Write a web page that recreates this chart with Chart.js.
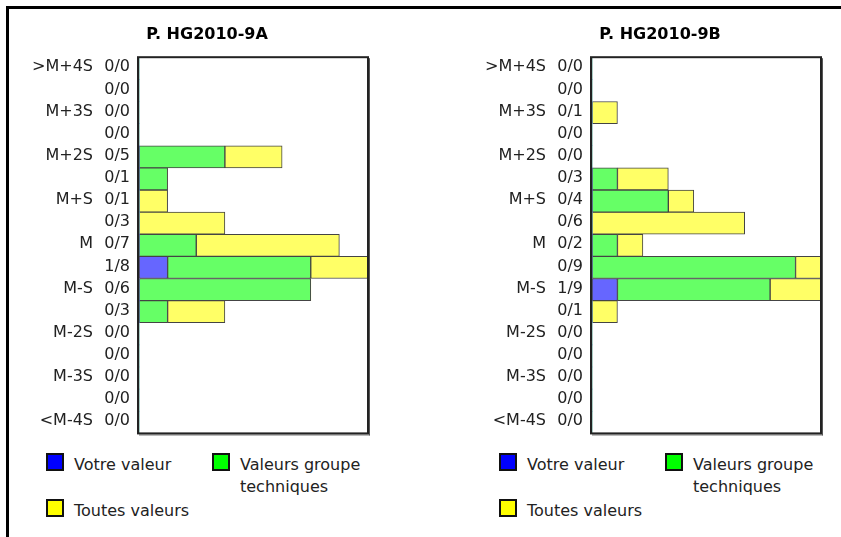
<!DOCTYPE html>
<html>
<head>
<meta charset="utf-8">
<script src="https://cdn.jsdelivr.net/npm/chart.js@4/dist/chart.umd.min.js"></script>
<style>
    body { margin: 0; background: #fff; width: 841px; height: 537px; overflow: hidden; position: relative; font-family: "DejaVu Sans", sans-serif; }
    .frame { position: absolute; left: 6px; top: 6px; right: 0; bottom: 0; border-left: 3px solid #000; border-top: 3px solid #000; }
    .panel { position: absolute; top: 0; width: 414px; height: 537px; }
    .panel canvas { position: absolute; left: 0; top: 0; }
    .legend { position: absolute; left: 46px; top: 453px; display: grid; grid-template-columns: 166px 170px; row-gap: 1px; }
    .item { display: flex; align-items: flex-start; font-size: 16px; color: #222; line-height: 22px; }
    .box { width: 14px; height: 14px; border: 2px solid #111; margin-right: 10px; flex: none; }
    .item span { margin-top: 1px; max-width: 150px; }
</style>
</head>
<body>
<div class="frame"></div>
<div class="panel" style="left:0px"><canvas id="chartA" width="414" height="452"></canvas><div class="legend" id="legendA"></div></div>
<div class="panel" style="left:453px"><canvas id="chartB" width="414" height="452"></canvas><div class="legend" id="legendB"></div></div>
<script>
// row labels (top to bottom)
const categories = [">M+4S", "", "M+3S", "", "M+2S", "", "M+S", "", "M", "", "M-S", "", "M-2S", "", "M-3S", "", "<M-4S"];
const seriesNames = ["Votre valeur", "Valeurs groupe techniques", "Toutes valeurs"];
const barColors = ["#6666ff", "#66ff66", "#ffff66"];
const legendColors = ["#0000ff", "#00ff00", "#ffff00"];

// P. HG2010-9A
const titleA = "P. HG2010-9A";
const countsA = ["0/0", "0/0", "0/0", "0/0", "0/5", "0/1", "0/1", "0/3", "0/7", "1/8", "0/6", "0/3", "0/0", "0/0", "0/0", "0/0", "0/0"];
const votreA  = [0, 0, 0, 0, 0, 0, 0, 0, 0, 1, 0, 0, 0, 0, 0, 0, 0];
const groupeA = [0, 0, 0, 0, 3, 1, 0, 0, 2, 5, 6, 1, 0, 0, 0, 0, 0];
const toutesA = [0, 0, 0, 0, 2, 0, 1, 3, 5, 2, 0, 2, 0, 0, 0, 0, 0];
const maxA = 8;

// P. HG2010-9B
const titleB = "P. HG2010-9B";
const countsB = ["0/0", "0/0", "0/1", "0/0", "0/0", "0/3", "0/4", "0/6", "0/2", "0/9", "1/9", "0/1", "0/0", "0/0", "0/0", "0/0", "0/0"];
const votreB  = [0, 0, 0, 0, 0, 0, 0, 0, 0, 0, 1, 0, 0, 0, 0, 0, 0];
const groupeB = [0, 0, 0, 0, 0, 1, 3, 0, 1, 8, 6, 0, 0, 0, 0, 0, 0];
const toutesB = [0, 0, 1, 0, 0, 2, 1, 6, 1, 1, 2, 1, 0, 0, 0, 0, 0];
const maxB = 9;

Chart.defaults.font.family = "'DejaVu Sans', sans-serif";
Chart.defaults.font.size = 16;
Chart.defaults.color = "#222";

// box around the plot area
const plotFrame = {
    id: "plotFrame",
    afterDraw(chart) {
        const { ctx, chartArea: a } = chart;
        ctx.save();
        ctx.strokeStyle = "#222";
        ctx.lineWidth = 2;
        ctx.strokeRect(a.left - 1, a.top, a.right - a.left + 1, a.bottom - a.top);
        ctx.fillStyle = "#555";
        ctx.fillRect(a.right + 1, a.top + 1, 1, a.bottom - a.top + 1);
        ctx.fillRect(a.left, a.bottom + 1, a.right - a.left + 2, 1);
        ctx.restore();
    }
};

function makeChart(canvasId, legendId, title, counts, series, xMax) {
    const datasets = series.map((values, i) => ({
        label: seriesNames[i],
        data: values,
        backgroundColor: barColors[i],
        borderColor: "#444",
        borderWidth: c => (c.raw ? 1 : 0),
        borderSkipped: false,
        barPercentage: 1,
        categoryPercentage: 1
    }));

    const chart = new Chart(document.getElementById(canvasId), {
        type: "bar",
        data: { labels: counts, datasets: datasets },
        options: {
            indexAxis: "y",
            responsive: false,
            animation: false,
            layout: { padding: { left: 7, right: 7, top: 0, bottom: 7 } },
            plugins: {
                legend: { display: false },
                tooltip: { enabled: false },
                title: {
                    display: true,
                    text: title,
                    color: "#000",
                    font: { size: 16, weight: "bold" },
                    padding: { top: 25, bottom: 13 }
                }
            },
            scales: {
                x: { stacked: true, min: 0, max: xMax, display: false },
                y: {
                    stacked: true,
                    position: "left",
                    weight: 0,
                    grid: { display: false, drawTicks: false },
                    border: { display: false },
                    ticks: { autoSkip: false, padding: 9, labelOffset: -1 },
                    afterFit: s => { s.width = 40; }
                },
                yCat: {
                    type: "category",
                    labels: categories,
                    position: "left",
                    weight: 1,
                    offset: true,
                    grid: { display: false, drawTicks: false },
                    border: { display: false },
                    ticks: { autoSkip: false, padding: 6, labelOffset: -1 },
                    afterFit: s => { s.width = 92; }
                },
                ySpacer: {
                    type: "category",
                    labels: categories,
                    position: "right",
                    offset: true,
                    grid: { display: false, drawTicks: false },
                    border: { display: false },
                    ticks: { display: false },
                    afterFit: s => { s.width = 39; }
                }
            }
        },
        plugins: [plotFrame]
    });

    // HTML legend from the datasets
    const legend = document.getElementById(legendId);
    chart.data.datasets.forEach((ds, i) => {
        const item = document.createElement("div");
        item.className = "item";
        const box = document.createElement("div");
        box.className = "box";
        box.style.background = legendColors[i];
        const txt = document.createElement("span");
        txt.textContent = ds.label;
        item.appendChild(box);
        item.appendChild(txt);
        legend.appendChild(item);
    });
    return chart;
}

makeChart("chartA", "legendA", titleA, countsA, [votreA, groupeA, toutesA], maxA);
makeChart("chartB", "legendB", titleB, countsB, [votreB, groupeB, toutesB], maxB);
</script>
</body>
</html>
